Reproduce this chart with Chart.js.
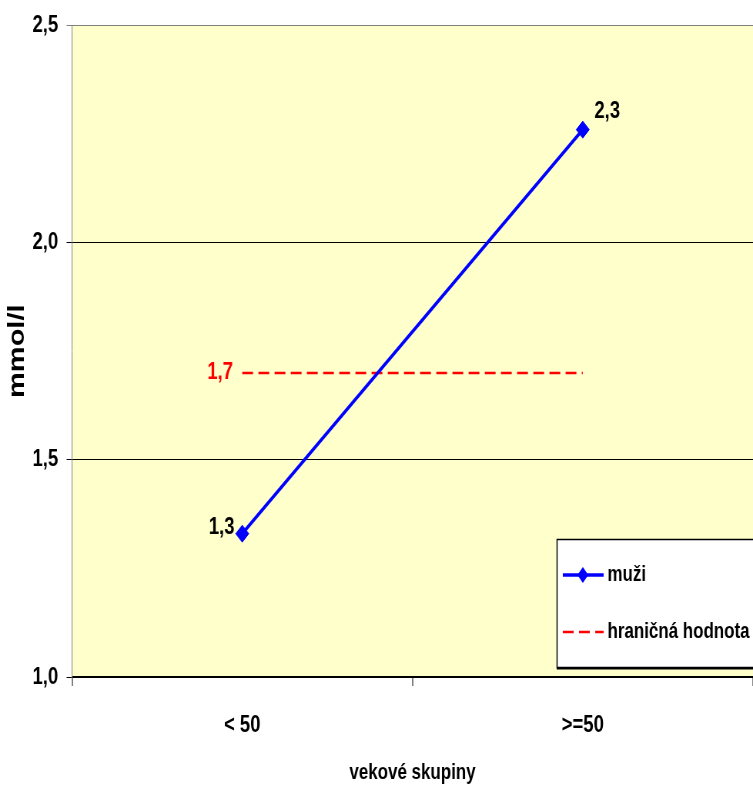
<!DOCTYPE html>
<html>
<head>
<meta charset="utf-8">
<script src="https://cdn.jsdelivr.net/npm/chart.js@4/dist/chart.umd.min.js"></script>
<style>
  html, body { margin: 0; padding: 0; background: #ffffff; overflow: hidden; }
  #wrap { width: 978px; height: 787px; transform: scaleX(0.76994); transform-origin: 0 0; }
  canvas { display: block; }
</style>
</head>
<body>
<div id="wrap"><canvas id="c" width="978" height="787"></canvas></div>
<script>
// Age groups and measured values (mmol/l)
const categories = ['< 50', '>=50'];
const muzi = [1.33, 2.26];
const limitValue = [1.7, 1.7];
const yTicks = [1.0, 1.5, 2.0, 2.5];
const seriesNames = ['muži', 'hraničná hodnota'];

const FONT = "'Liberation Sans', Arial, sans-serif";
const fmt = v => v.toFixed(1).replace('.', ',');

// Pale yellow plot background
const plotBackground = {
  id: 'plotBackground',
  beforeDraw(chart) {
    const { ctx, chartArea: a } = chart;
    ctx.save();
    ctx.fillStyle = '#FFFFCC';
    ctx.fillRect(a.left, a.top, a.right - a.left, a.bottom - a.top);
    ctx.restore();
  }
};

// Value labels next to the first/last points
const valueLabels = {
  id: 'valueLabels',
  afterDatasetsDraw(chart) {
    const { ctx } = chart;
    ctx.save();
    ctx.font = 'bold 24px ' + FONT;
    ctx.textBaseline = 'middle';
    const m = chart.getDatasetMeta(0).data;
    ctx.fillStyle = '#000000';
    ctx.textAlign = 'right';
    ctx.fillText(fmt(muzi[0]), m[0].x - 10, m[0].y - 6);
    ctx.textAlign = 'left';
    ctx.fillText(fmt(muzi[1]), m[1].x + 15, m[1].y - 18);
    const l = chart.getDatasetMeta(1).data;
    ctx.fillStyle = '#FF0000';
    ctx.textAlign = 'right';
    ctx.fillText(fmt(limitValue[0]), l[0].x - 12, l[0].y - 1);
    ctx.restore();
  }
};

// Boxed legend inside the plot's lower right corner
const boxLegend = {
  id: 'boxLegend',
  afterDraw(chart) {
    const { ctx } = chart;
    const left = 723, top = 539, bottom = 667, right = 1010;
    ctx.save();
    ctx.fillStyle = '#ffffff';
    ctx.fillRect(left, top, right - left, bottom - top);
    ctx.strokeStyle = '#000000';
    ctx.lineWidth = 1.5;
    ctx.strokeRect(left + 0.5, top + 0.5, right - left, bottom - top);
    ctx.lineWidth = 2;
    ctx.beginPath();
    ctx.moveTo(left, bottom + 1.5);
    ctx.lineTo(right, bottom + 1.5);
    ctx.stroke();

    const rows = [575, 632];
    chart.data.datasets.forEach((ds, i) => {
      const y = rows[i];
      ctx.save();
      ctx.strokeStyle = ds.borderColor;
      ctx.lineWidth = ds.borderWidth;
      ctx.setLineDash(ds.borderDash || []);
      ctx.beginPath();
      ctx.moveTo(731, y);
      ctx.lineTo(784, y);
      ctx.stroke();
      ctx.restore();
      if (ds.pointRadius > 0) {
        ctx.fillStyle = ds.pointBackgroundColor;
        ctx.beginPath();
        ctx.moveTo(757, y - 8);
        ctx.lineTo(764, y);
        ctx.lineTo(757, y + 8);
        ctx.lineTo(750, y);
        ctx.closePath();
        ctx.fill();
      }
      ctx.fillStyle = '#000000';
      ctx.font = 'bold 22px ' + FONT;
      ctx.textAlign = 'left';
      ctx.textBaseline = 'middle';
      ctx.fillText(ds.label, 789, y);
    });
    ctx.restore();
  }
};

new Chart(document.getElementById('c'), {
  type: 'line',
  data: {
    labels: categories,
    datasets: [
      {
        label: seriesNames[0],
        data: muzi,
        borderColor: '#0000FF',
        backgroundColor: '#0000FF',
        borderWidth: 3.5,
        pointStyle: 'rectRot',
        pointRadius: 8.5,
        pointHoverRadius: 8.5,
        pointBackgroundColor: '#0000FF',
        pointBorderColor: '#0000FF',
        pointBorderWidth: 1,
        tension: 0
      },
      {
        label: seriesNames[1],
        data: limitValue,
        borderColor: '#FF0000',
        backgroundColor: '#FF0000',
        borderWidth: 2.5,
        borderDash: [14, 7],
        pointRadius: 0,
        pointHoverRadius: 0,
        tension: 0
      }
    ]
  },
  options: {
    responsive: false,
    animation: false,
    devicePixelRatio: 1,
    layout: { autoPadding: false, padding: { top: 20, right: 0, bottom: 0, left: 0 } },
    plugins: { legend: { display: false }, tooltip: { enabled: false } },
    scales: {
      x: {
        type: 'category',
        offset: true,
        afterFit(s) { s.height = 110; s.paddingLeft = 0; s.paddingRight = 0; },
        grid: {
          offset: true,
          drawOnChartArea: false,
          drawTicks: true,
          tickLength: 9,
          color: '#808080',
          lineWidth: 2
        },
        border: { display: true, color: '#000000', width: 2 },
        ticks: {
          color: '#000000',
          padding: 25,
          maxRotation: 0,
          font: { family: FONT, size: 24, weight: 'bold' }
        },
        title: {
          display: true,
          text: 'vekové skupiny',
          color: '#000000',
          font: { family: FONT, size: 22, weight: 'bold' },
          padding: { top: 0, bottom: 1 }
        }
      },
      y: {
        min: 1,
        max: 2.5,
        afterFit(s) { s.width = 93.5; },
        afterBuildTicks(s) { s.ticks = yTicks.map(v => ({ value: v })); },
        grid: {
          color: c => (c.tick && c.tick.value === 2.5 ? '#808080' : '#000000'),
          lineWidth: 1,
          tickLength: 7
        },
        border: { display: true, color: '#808080', width: 1 },
        ticks: {
          color: '#000000',
          padding: 11,
          callback: v => fmt(v),
          font: { family: FONT, size: 24, weight: 'bold' }
        },
        title: {
          display: true,
          text: 'mmol/l',
          color: '#000000',
          font: { family: FONT, size: 29, weight: 'bold' },
          padding: { top: 6, bottom: 0 }
        }
      }
    }
  },
  plugins: [plotBackground, valueLabels, boxLegend]
});
</script>
</body>
</html>
